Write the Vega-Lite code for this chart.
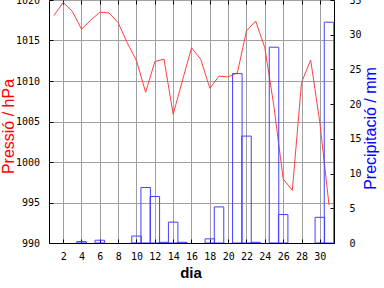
{
  "$schema": "https://vega.github.io/schema/vega-lite/v6.json",
  "autosize": {"type": "none"},
  "width": 285,
  "height": 243,
  "padding": {"left": 49, "top": 0, "right": 50, "bottom": 45},
  "background": "white",
  "data": {"values": [
    {"dia": 1, "p": 1018.1, "r": null},
    {"dia": 2, "p": 1019.7, "r": null},
    {"dia": 3, "p": 1018.6, "r": null},
    {"dia": 4, "p": 1016.4, "r": 0.2},
    {"dia": 5, "p": 1017.5, "r": null},
    {"dia": 6, "p": 1018.5, "r": 0.4},
    {"dia": 7, "p": 1018.4, "r": null},
    {"dia": 8, "p": 1017.2, "r": null},
    {"dia": 9, "p": 1014.7, "r": null},
    {"dia": 10, "p": 1012.5, "r": 1.0},
    {"dia": 11, "p": 1008.6, "r": 8.0},
    {"dia": 12, "p": 1012.4, "r": 6.7},
    {"dia": 13, "p": 1012.7, "r": 0.1},
    {"dia": 14, "p": 1005.9, "r": 3.0},
    {"dia": 15, "p": 1010.0, "r": 0.1},
    {"dia": 16, "p": 1014.1, "r": null},
    {"dia": 17, "p": 1012.7, "r": null},
    {"dia": 18, "p": 1009.1, "r": 0.6},
    {"dia": 19, "p": 1010.6, "r": 5.2},
    {"dia": 20, "p": 1010.5, "r": null},
    {"dia": 21, "p": 1011.0, "r": 24.4},
    {"dia": 22, "p": 1016.2, "r": 15.4},
    {"dia": 23, "p": 1017.4, "r": 0.1},
    {"dia": 24, "p": 1014.1, "r": null},
    {"dia": 25, "p": 1006.8, "r": 28.2},
    {"dia": 26, "p": 997.9, "r": 4.1},
    {"dia": 27, "p": 996.5, "r": null},
    {"dia": 28, "p": 1009.8, "r": null},
    {"dia": 29, "p": 1012.6, "r": null},
    {"dia": 30, "p": 1004.9, "r": 3.7},
    {"dia": 31, "p": 994.7, "r": 31.8}
  ]},
  "layer": [
    {
      "mark": {"type": "line", "color": "#ff4040", "strokeWidth": 1, "clip": true},
      "encoding": {
        "x": {"field": "dia", "type": "quantitative",
          "scale": {"domain": [1, 31], "nice": false, "zero": false},
          "axis": {"orient": "bottom", "values": [2,4,6,8,10,12,14,16,18,20,22,24,26,28,30],
            "format": "d",
            "title": "dia", "grid": true, "tickSize": -4, "labelPadding": 12,
            "titleX": 141.5, "titleY": 34, "titleAlign": "center", "titleBaseline": "alphabetic",
            "titleFontSize": 15, "titleFontWeight": "bold", "titleColor": "black"}},
        "y": {"field": "p", "type": "quantitative",
          "scale": {"domain": [990, 1020], "nice": false, "zero": false},
          "axis": {"orient": "left", "values": [990,995,1000,1005,1010,1015,1020],
            "format": "d",
            "title": "Pressió / hPa", "grid": true, "tickSize": -4, "labelPadding": 13.5,
            "titleColor": "#ff0000", "titleFontSize": 16, "titleAngle": 270,
            "titleX": -35.5, "titleY": 126, "titleAlign": "center", "titleBaseline": "alphabetic"}}
      }
    },
    {
      "mark": {"type": "bar", "width": 9.5, "fillOpacity": 0, "stroke": "#4040ff", "strokeWidth": 1, "clip": true},
      "encoding": {
        "x": {"field": "dia", "type": "quantitative",
          "axis": {"orient": "top", "values": [2,4,6,8,10,12,14,16,18,20,22,24,26,28,30],
            "title": null, "labels": false, "domain": false, "grid": false, "tickSize": -4}},
        "y": {"field": "r", "type": "quantitative",
          "scale": {"domain": [0, 35], "nice": false},
          "axis": {"orient": "right", "values": [0,5,10,15,20,25,30,35],
            "format": "d",
            "title": "Precipitació / mm", "grid": false, "tickSize": -4, "labelPadding": 19,
            "labelAlign": "left",
            "titleColor": "#0000ff", "titleFontSize": 16, "titleAngle": 270,
            "titleX": 41, "titleY": 128, "titleAlign": "center", "titleBaseline": "alphabetic"}}
      }
    }
  ],
  "resolve": {"scale": {"y": "independent"}, "axis": {"x": "independent"}},
  "config": {
    "view": {"stroke": null},
    "axis": {
      "labelFont": "DejaVu Sans Mono", "labelFontSize": 10, "labelColor": "black",
      "labelOverlap": false, "labelBound": false, "labelFlush": false,
      "domainColor": "black", "domainWidth": 1, "tickColor": "black", "tickWidth": 1,
      "gridColor": "#a0a0a0", "gridWidth": 1, "gridOpacity": 1,
      "titleFont": "Liberation Sans", "titleFontWeight": "normal", "titlePadding": 0
    }
  }
}
